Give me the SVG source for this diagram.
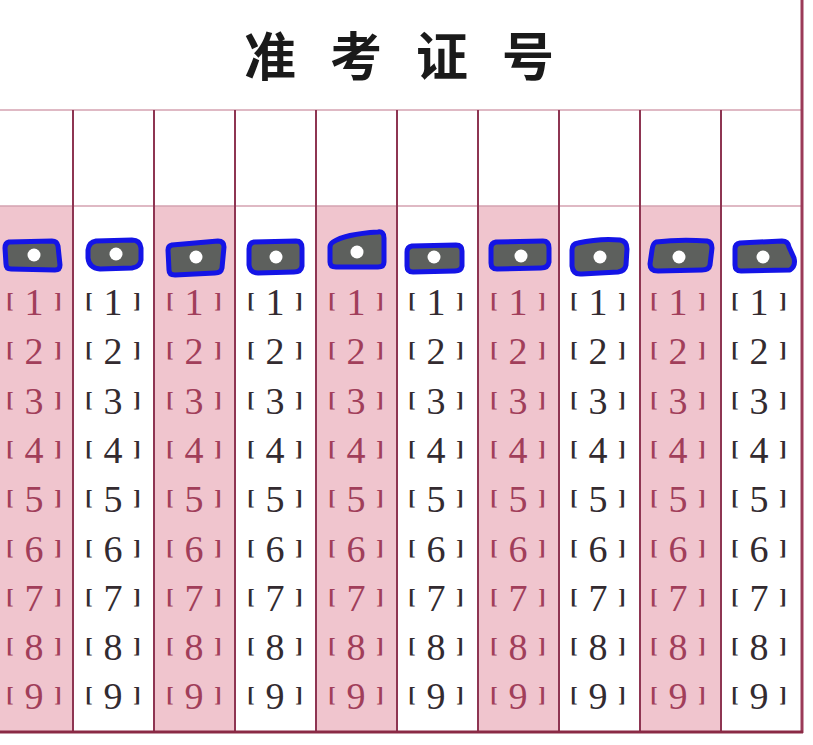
<svg xmlns="http://www.w3.org/2000/svg" width="813" height="745" viewBox="0 0 813 745">
<style>
.bg{fill:#ffffff}
.stripe{fill:#f0c5ce}
.vl{stroke:#8e3552;stroke-width:2}
.hl{stroke:#d5a2b0;stroke-width:1.6}
.title{font-family:'Noto Sans CJK SC','Noto Sans CJK TC',sans-serif;font-size:52px;font-weight:bold;fill:#1a1a1a;letter-spacing:34px}
.lbl text{font-family:'Liberation Serif',serif;font-size:38px;text-anchor:middle}
.lbl .b{font-size:22px;font-weight:bold}
.p text{fill:#a13e5a}
.w text{fill:#332b30}
.bub{fill:#5d605d;stroke:#1414e6;stroke-width:5;stroke-linejoin:round}
.dot{fill:#ffffff}
</style>
<rect class="bg" x="0" y="0" width="813" height="745"/>
<g id="stripes">
<rect class="stripe" x="0" y="206" width="73" height="526"/>
<rect class="stripe" x="154" y="206" width="81" height="526"/>
<rect class="stripe" x="316" y="206" width="81" height="526"/>
<rect class="stripe" x="478" y="206" width="81" height="526"/>
<rect class="stripe" x="640" y="206" width="81" height="526"/>
</g>
<g id="grid">
<line class="hl" x1="0" y1="110" x2="802" y2="110"/>
<line class="hl" x1="0" y1="206" x2="802" y2="206"/>
<line class="vl" x1="73" y1="110" x2="73" y2="732"/>
<line class="vl" x1="154" y1="110" x2="154" y2="732"/>
<line class="vl" x1="235" y1="110" x2="235" y2="732"/>
<line class="vl" x1="316" y1="110" x2="316" y2="732"/>
<line class="vl" x1="397" y1="110" x2="397" y2="732"/>
<line class="vl" x1="478" y1="110" x2="478" y2="732"/>
<line class="vl" x1="559" y1="110" x2="559" y2="732"/>
<line class="vl" x1="640" y1="110" x2="640" y2="732"/>
<line class="vl" x1="721" y1="110" x2="721" y2="732"/>
<line x1="802" y1="0" x2="802" y2="733" stroke="#9b3a58" stroke-width="3"/>
<line x1="0" y1="732" x2="803" y2="732" stroke="#8a2a45" stroke-width="3"/>
</g>
<g id="title">
<text class="title" x="244" y="76">准考证号</text>
</g>
<g id="col1" class="lbl p" transform="translate(34,0)">
<text y="315"><tspan x="-24" dy="-7" class="b">[</tspan><tspan x="0" dy="7">1</tspan><tspan x="24" dy="-7" class="b">]</tspan></text>
<text y="364"><tspan x="-24" dy="-7" class="b">[</tspan><tspan x="0" dy="7">2</tspan><tspan x="24" dy="-7" class="b">]</tspan></text>
<text y="414"><tspan x="-24" dy="-7" class="b">[</tspan><tspan x="0" dy="7">3</tspan><tspan x="24" dy="-7" class="b">]</tspan></text>
<text y="463"><tspan x="-24" dy="-7" class="b">[</tspan><tspan x="0" dy="7">4</tspan><tspan x="24" dy="-7" class="b">]</tspan></text>
<text y="512"><tspan x="-24" dy="-7" class="b">[</tspan><tspan x="0" dy="7">5</tspan><tspan x="24" dy="-7" class="b">]</tspan></text>
<text y="562"><tspan x="-24" dy="-7" class="b">[</tspan><tspan x="0" dy="7">6</tspan><tspan x="24" dy="-7" class="b">]</tspan></text>
<text y="611"><tspan x="-24" dy="-7" class="b">[</tspan><tspan x="0" dy="7">7</tspan><tspan x="24" dy="-7" class="b">]</tspan></text>
<text y="660"><tspan x="-24" dy="-7" class="b">[</tspan><tspan x="0" dy="7">8</tspan><tspan x="24" dy="-7" class="b">]</tspan></text>
<text y="709"><tspan x="-24" dy="-7" class="b">[</tspan><tspan x="0" dy="7">9</tspan><tspan x="24" dy="-7" class="b">]</tspan></text>
</g>
<g id="col2" class="lbl w" transform="translate(113,0)">
<text y="315"><tspan x="-24" dy="-7" class="b">[</tspan><tspan x="0" dy="7">1</tspan><tspan x="24" dy="-7" class="b">]</tspan></text>
<text y="364"><tspan x="-24" dy="-7" class="b">[</tspan><tspan x="0" dy="7">2</tspan><tspan x="24" dy="-7" class="b">]</tspan></text>
<text y="414"><tspan x="-24" dy="-7" class="b">[</tspan><tspan x="0" dy="7">3</tspan><tspan x="24" dy="-7" class="b">]</tspan></text>
<text y="463"><tspan x="-24" dy="-7" class="b">[</tspan><tspan x="0" dy="7">4</tspan><tspan x="24" dy="-7" class="b">]</tspan></text>
<text y="512"><tspan x="-24" dy="-7" class="b">[</tspan><tspan x="0" dy="7">5</tspan><tspan x="24" dy="-7" class="b">]</tspan></text>
<text y="562"><tspan x="-24" dy="-7" class="b">[</tspan><tspan x="0" dy="7">6</tspan><tspan x="24" dy="-7" class="b">]</tspan></text>
<text y="611"><tspan x="-24" dy="-7" class="b">[</tspan><tspan x="0" dy="7">7</tspan><tspan x="24" dy="-7" class="b">]</tspan></text>
<text y="660"><tspan x="-24" dy="-7" class="b">[</tspan><tspan x="0" dy="7">8</tspan><tspan x="24" dy="-7" class="b">]</tspan></text>
<text y="709"><tspan x="-24" dy="-7" class="b">[</tspan><tspan x="0" dy="7">9</tspan><tspan x="24" dy="-7" class="b">]</tspan></text>
</g>
<g id="col3" class="lbl p" transform="translate(194,0)">
<text y="315"><tspan x="-24" dy="-7" class="b">[</tspan><tspan x="0" dy="7">1</tspan><tspan x="24" dy="-7" class="b">]</tspan></text>
<text y="364"><tspan x="-24" dy="-7" class="b">[</tspan><tspan x="0" dy="7">2</tspan><tspan x="24" dy="-7" class="b">]</tspan></text>
<text y="414"><tspan x="-24" dy="-7" class="b">[</tspan><tspan x="0" dy="7">3</tspan><tspan x="24" dy="-7" class="b">]</tspan></text>
<text y="463"><tspan x="-24" dy="-7" class="b">[</tspan><tspan x="0" dy="7">4</tspan><tspan x="24" dy="-7" class="b">]</tspan></text>
<text y="512"><tspan x="-24" dy="-7" class="b">[</tspan><tspan x="0" dy="7">5</tspan><tspan x="24" dy="-7" class="b">]</tspan></text>
<text y="562"><tspan x="-24" dy="-7" class="b">[</tspan><tspan x="0" dy="7">6</tspan><tspan x="24" dy="-7" class="b">]</tspan></text>
<text y="611"><tspan x="-24" dy="-7" class="b">[</tspan><tspan x="0" dy="7">7</tspan><tspan x="24" dy="-7" class="b">]</tspan></text>
<text y="660"><tspan x="-24" dy="-7" class="b">[</tspan><tspan x="0" dy="7">8</tspan><tspan x="24" dy="-7" class="b">]</tspan></text>
<text y="709"><tspan x="-24" dy="-7" class="b">[</tspan><tspan x="0" dy="7">9</tspan><tspan x="24" dy="-7" class="b">]</tspan></text>
</g>
<g id="col4" class="lbl w" transform="translate(275,0)">
<text y="315"><tspan x="-24" dy="-7" class="b">[</tspan><tspan x="0" dy="7">1</tspan><tspan x="24" dy="-7" class="b">]</tspan></text>
<text y="364"><tspan x="-24" dy="-7" class="b">[</tspan><tspan x="0" dy="7">2</tspan><tspan x="24" dy="-7" class="b">]</tspan></text>
<text y="414"><tspan x="-24" dy="-7" class="b">[</tspan><tspan x="0" dy="7">3</tspan><tspan x="24" dy="-7" class="b">]</tspan></text>
<text y="463"><tspan x="-24" dy="-7" class="b">[</tspan><tspan x="0" dy="7">4</tspan><tspan x="24" dy="-7" class="b">]</tspan></text>
<text y="512"><tspan x="-24" dy="-7" class="b">[</tspan><tspan x="0" dy="7">5</tspan><tspan x="24" dy="-7" class="b">]</tspan></text>
<text y="562"><tspan x="-24" dy="-7" class="b">[</tspan><tspan x="0" dy="7">6</tspan><tspan x="24" dy="-7" class="b">]</tspan></text>
<text y="611"><tspan x="-24" dy="-7" class="b">[</tspan><tspan x="0" dy="7">7</tspan><tspan x="24" dy="-7" class="b">]</tspan></text>
<text y="660"><tspan x="-24" dy="-7" class="b">[</tspan><tspan x="0" dy="7">8</tspan><tspan x="24" dy="-7" class="b">]</tspan></text>
<text y="709"><tspan x="-24" dy="-7" class="b">[</tspan><tspan x="0" dy="7">9</tspan><tspan x="24" dy="-7" class="b">]</tspan></text>
</g>
<g id="col5" class="lbl p" transform="translate(356,0)">
<text y="315"><tspan x="-24" dy="-7" class="b">[</tspan><tspan x="0" dy="7">1</tspan><tspan x="24" dy="-7" class="b">]</tspan></text>
<text y="364"><tspan x="-24" dy="-7" class="b">[</tspan><tspan x="0" dy="7">2</tspan><tspan x="24" dy="-7" class="b">]</tspan></text>
<text y="414"><tspan x="-24" dy="-7" class="b">[</tspan><tspan x="0" dy="7">3</tspan><tspan x="24" dy="-7" class="b">]</tspan></text>
<text y="463"><tspan x="-24" dy="-7" class="b">[</tspan><tspan x="0" dy="7">4</tspan><tspan x="24" dy="-7" class="b">]</tspan></text>
<text y="512"><tspan x="-24" dy="-7" class="b">[</tspan><tspan x="0" dy="7">5</tspan><tspan x="24" dy="-7" class="b">]</tspan></text>
<text y="562"><tspan x="-24" dy="-7" class="b">[</tspan><tspan x="0" dy="7">6</tspan><tspan x="24" dy="-7" class="b">]</tspan></text>
<text y="611"><tspan x="-24" dy="-7" class="b">[</tspan><tspan x="0" dy="7">7</tspan><tspan x="24" dy="-7" class="b">]</tspan></text>
<text y="660"><tspan x="-24" dy="-7" class="b">[</tspan><tspan x="0" dy="7">8</tspan><tspan x="24" dy="-7" class="b">]</tspan></text>
<text y="709"><tspan x="-24" dy="-7" class="b">[</tspan><tspan x="0" dy="7">9</tspan><tspan x="24" dy="-7" class="b">]</tspan></text>
</g>
<g id="col6" class="lbl w" transform="translate(436,0)">
<text y="315"><tspan x="-24" dy="-7" class="b">[</tspan><tspan x="0" dy="7">1</tspan><tspan x="24" dy="-7" class="b">]</tspan></text>
<text y="364"><tspan x="-24" dy="-7" class="b">[</tspan><tspan x="0" dy="7">2</tspan><tspan x="24" dy="-7" class="b">]</tspan></text>
<text y="414"><tspan x="-24" dy="-7" class="b">[</tspan><tspan x="0" dy="7">3</tspan><tspan x="24" dy="-7" class="b">]</tspan></text>
<text y="463"><tspan x="-24" dy="-7" class="b">[</tspan><tspan x="0" dy="7">4</tspan><tspan x="24" dy="-7" class="b">]</tspan></text>
<text y="512"><tspan x="-24" dy="-7" class="b">[</tspan><tspan x="0" dy="7">5</tspan><tspan x="24" dy="-7" class="b">]</tspan></text>
<text y="562"><tspan x="-24" dy="-7" class="b">[</tspan><tspan x="0" dy="7">6</tspan><tspan x="24" dy="-7" class="b">]</tspan></text>
<text y="611"><tspan x="-24" dy="-7" class="b">[</tspan><tspan x="0" dy="7">7</tspan><tspan x="24" dy="-7" class="b">]</tspan></text>
<text y="660"><tspan x="-24" dy="-7" class="b">[</tspan><tspan x="0" dy="7">8</tspan><tspan x="24" dy="-7" class="b">]</tspan></text>
<text y="709"><tspan x="-24" dy="-7" class="b">[</tspan><tspan x="0" dy="7">9</tspan><tspan x="24" dy="-7" class="b">]</tspan></text>
</g>
<g id="col7" class="lbl p" transform="translate(518,0)">
<text y="315"><tspan x="-24" dy="-7" class="b">[</tspan><tspan x="0" dy="7">1</tspan><tspan x="24" dy="-7" class="b">]</tspan></text>
<text y="364"><tspan x="-24" dy="-7" class="b">[</tspan><tspan x="0" dy="7">2</tspan><tspan x="24" dy="-7" class="b">]</tspan></text>
<text y="414"><tspan x="-24" dy="-7" class="b">[</tspan><tspan x="0" dy="7">3</tspan><tspan x="24" dy="-7" class="b">]</tspan></text>
<text y="463"><tspan x="-24" dy="-7" class="b">[</tspan><tspan x="0" dy="7">4</tspan><tspan x="24" dy="-7" class="b">]</tspan></text>
<text y="512"><tspan x="-24" dy="-7" class="b">[</tspan><tspan x="0" dy="7">5</tspan><tspan x="24" dy="-7" class="b">]</tspan></text>
<text y="562"><tspan x="-24" dy="-7" class="b">[</tspan><tspan x="0" dy="7">6</tspan><tspan x="24" dy="-7" class="b">]</tspan></text>
<text y="611"><tspan x="-24" dy="-7" class="b">[</tspan><tspan x="0" dy="7">7</tspan><tspan x="24" dy="-7" class="b">]</tspan></text>
<text y="660"><tspan x="-24" dy="-7" class="b">[</tspan><tspan x="0" dy="7">8</tspan><tspan x="24" dy="-7" class="b">]</tspan></text>
<text y="709"><tspan x="-24" dy="-7" class="b">[</tspan><tspan x="0" dy="7">9</tspan><tspan x="24" dy="-7" class="b">]</tspan></text>
</g>
<g id="col8" class="lbl w" transform="translate(598,0)">
<text y="315"><tspan x="-24" dy="-7" class="b">[</tspan><tspan x="0" dy="7">1</tspan><tspan x="24" dy="-7" class="b">]</tspan></text>
<text y="364"><tspan x="-24" dy="-7" class="b">[</tspan><tspan x="0" dy="7">2</tspan><tspan x="24" dy="-7" class="b">]</tspan></text>
<text y="414"><tspan x="-24" dy="-7" class="b">[</tspan><tspan x="0" dy="7">3</tspan><tspan x="24" dy="-7" class="b">]</tspan></text>
<text y="463"><tspan x="-24" dy="-7" class="b">[</tspan><tspan x="0" dy="7">4</tspan><tspan x="24" dy="-7" class="b">]</tspan></text>
<text y="512"><tspan x="-24" dy="-7" class="b">[</tspan><tspan x="0" dy="7">5</tspan><tspan x="24" dy="-7" class="b">]</tspan></text>
<text y="562"><tspan x="-24" dy="-7" class="b">[</tspan><tspan x="0" dy="7">6</tspan><tspan x="24" dy="-7" class="b">]</tspan></text>
<text y="611"><tspan x="-24" dy="-7" class="b">[</tspan><tspan x="0" dy="7">7</tspan><tspan x="24" dy="-7" class="b">]</tspan></text>
<text y="660"><tspan x="-24" dy="-7" class="b">[</tspan><tspan x="0" dy="7">8</tspan><tspan x="24" dy="-7" class="b">]</tspan></text>
<text y="709"><tspan x="-24" dy="-7" class="b">[</tspan><tspan x="0" dy="7">9</tspan><tspan x="24" dy="-7" class="b">]</tspan></text>
</g>
<g id="col9" class="lbl p" transform="translate(678,0)">
<text y="315"><tspan x="-24" dy="-7" class="b">[</tspan><tspan x="0" dy="7">1</tspan><tspan x="24" dy="-7" class="b">]</tspan></text>
<text y="364"><tspan x="-24" dy="-7" class="b">[</tspan><tspan x="0" dy="7">2</tspan><tspan x="24" dy="-7" class="b">]</tspan></text>
<text y="414"><tspan x="-24" dy="-7" class="b">[</tspan><tspan x="0" dy="7">3</tspan><tspan x="24" dy="-7" class="b">]</tspan></text>
<text y="463"><tspan x="-24" dy="-7" class="b">[</tspan><tspan x="0" dy="7">4</tspan><tspan x="24" dy="-7" class="b">]</tspan></text>
<text y="512"><tspan x="-24" dy="-7" class="b">[</tspan><tspan x="0" dy="7">5</tspan><tspan x="24" dy="-7" class="b">]</tspan></text>
<text y="562"><tspan x="-24" dy="-7" class="b">[</tspan><tspan x="0" dy="7">6</tspan><tspan x="24" dy="-7" class="b">]</tspan></text>
<text y="611"><tspan x="-24" dy="-7" class="b">[</tspan><tspan x="0" dy="7">7</tspan><tspan x="24" dy="-7" class="b">]</tspan></text>
<text y="660"><tspan x="-24" dy="-7" class="b">[</tspan><tspan x="0" dy="7">8</tspan><tspan x="24" dy="-7" class="b">]</tspan></text>
<text y="709"><tspan x="-24" dy="-7" class="b">[</tspan><tspan x="0" dy="7">9</tspan><tspan x="24" dy="-7" class="b">]</tspan></text>
</g>
<g id="col10" class="lbl w" transform="translate(759,0)">
<text y="315"><tspan x="-24" dy="-7" class="b">[</tspan><tspan x="0" dy="7">1</tspan><tspan x="24" dy="-7" class="b">]</tspan></text>
<text y="364"><tspan x="-24" dy="-7" class="b">[</tspan><tspan x="0" dy="7">2</tspan><tspan x="24" dy="-7" class="b">]</tspan></text>
<text y="414"><tspan x="-24" dy="-7" class="b">[</tspan><tspan x="0" dy="7">3</tspan><tspan x="24" dy="-7" class="b">]</tspan></text>
<text y="463"><tspan x="-24" dy="-7" class="b">[</tspan><tspan x="0" dy="7">4</tspan><tspan x="24" dy="-7" class="b">]</tspan></text>
<text y="512"><tspan x="-24" dy="-7" class="b">[</tspan><tspan x="0" dy="7">5</tspan><tspan x="24" dy="-7" class="b">]</tspan></text>
<text y="562"><tspan x="-24" dy="-7" class="b">[</tspan><tspan x="0" dy="7">6</tspan><tspan x="24" dy="-7" class="b">]</tspan></text>
<text y="611"><tspan x="-24" dy="-7" class="b">[</tspan><tspan x="0" dy="7">7</tspan><tspan x="24" dy="-7" class="b">]</tspan></text>
<text y="660"><tspan x="-24" dy="-7" class="b">[</tspan><tspan x="0" dy="7">8</tspan><tspan x="24" dy="-7" class="b">]</tspan></text>
<text y="709"><tspan x="-24" dy="-7" class="b">[</tspan><tspan x="0" dy="7">9</tspan><tspan x="24" dy="-7" class="b">]</tspan></text>
</g>
<g id="bubbles">
<path class="bub" d="M9,242 L52,241 Q57,241 58,246 L60,265 Q60,270 55,270 L11,269 Q6,269 6,264 L5,248 Q5,243 9,242 Z"/>
<path class="bub" d="M96,241 L132,240 Q140,240 141,248 L141,260 Q140,267 132,268 L100,269 Q89,268 88,258 L88,250 Q89,242 96,241 Z"/>
<path class="bub" d="M172,245 L218,241 Q224,241 224,247 L222,268 Q221,273 215,273 L175,275 Q169,275 169,270 L168,250 Q168,246 172,245 Z"/>
<path class="bub" d="M254,242 L296,241 Q302,241 302,248 L302,266 Q301,272 294,272 L258,273 Q250,273 249,265 L249,249 Q249,243 254,242 Z"/>
<path class="bub" d="M333,242 Q345,234 378,232 Q384,231 384,238 L384,262 Q384,267 378,267 L336,267 Q330,267 330,262 L330,247 Q330,244 333,242 Z"/>
<path class="bub" d="M412,246 L456,245 Q462,245 462,251 L462,266 Q461,271 455,271 L413,272 Q407,272 407,266 L407,252 Q407,247 412,246 Z"/>
<path class="bub" d="M496,242 L543,241 Q549,241 549,248 L549,262 Q548,268 541,268 L497,269 Q491,269 491,263 L491,248 Q491,243 496,242 Z"/>
<path class="bub" d="M578,243 Q600,238 620,240 Q627,241 627,249 L626,265 Q625,271 618,272 L582,274 Q573,275 572,266 L572,250 Q572,244 578,243 Z"/>
<path class="bub" d="M656,242 Q680,239 707,241 Q712,242 712,248 L710,265 Q709,270 702,270 L658,271 Q650,271 650,264 L652,250 Q653,243 656,242 Z"/>
<path class="bub" d="M740,243 L782,241 Q788,241 789,247 L794,258 Q796,266 790,270 L741,271 Q735,271 735,265 L735,249 Q735,244 740,243 Z"/>
<circle class="dot" cx="34" cy="255" r="6.5"/>
<circle class="dot" cx="116" cy="254" r="6.5"/>
<circle class="dot" cx="196" cy="257" r="6.5"/>
<circle class="dot" cx="276" cy="257" r="6.5"/>
<circle class="dot" cx="357" cy="252" r="6.5"/>
<circle class="dot" cx="434" cy="257" r="6.5"/>
<circle class="dot" cx="521" cy="256" r="6.5"/>
<circle class="dot" cx="600" cy="257" r="6.5"/>
<circle class="dot" cx="679" cy="257" r="6.5"/>
<circle class="dot" cx="763" cy="257" r="6.5"/>
</g>
</svg>
